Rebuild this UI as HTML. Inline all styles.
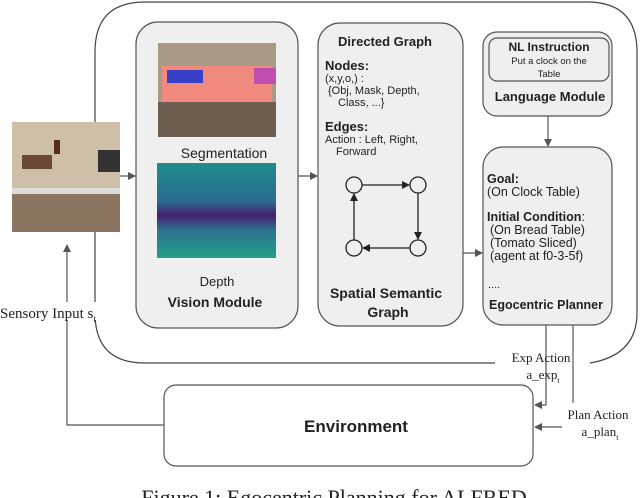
<!DOCTYPE html>
<html><head><meta charset="utf-8"><style>
html,body{margin:0;padding:0;background:#fff}
svg{display:block}
.s{font-family:"Liberation Sans",sans-serif;fill:#222}
.t{font-family:"Liberation Serif",serif;fill:#222}
</style></head><body>
<svg width="640" height="498" viewBox="0 0 640 498" xmlns="http://www.w3.org/2000/svg">
<defs>
<marker id="a" markerWidth="8" markerHeight="8" refX="7" refY="4" orient="auto" markerUnits="userSpaceOnUse"><path d="M0,0 L8,4 L0,8 z" fill="#555"/></marker>
<marker id="b" markerWidth="8" markerHeight="8" refX="7" refY="4" orient="auto" markerUnits="userSpaceOnUse"><path d="M0,0 L8,4 L0,8 z" fill="#222"/></marker>
<linearGradient id="dg" x1="0" y1="0" x2="0" y2="1"><stop offset="0" stop-color="#1f8e8c"/><stop offset="0.4" stop-color="#2a6b8e"/><stop offset="0.55" stop-color="#45206e"/><stop offset="0.7" stop-color="#2e6f8e"/><stop offset="1" stop-color="#23a08a"/></linearGradient>
</defs>
<path d="M495,363 L145,363 Q95,363 95,313 L95,52 Q95,2 145,2 L587,2 Q637,2 637,52 L637,313 Q637,355 590,363" fill="none" stroke="#444" stroke-width="1.2"/>
<rect x="12" y="122" width="108" height="110" fill="#cdbfa8"/>
<rect x="12" y="190" width="108" height="42" fill="#8c7560"/>
<rect x="12" y="188" width="108" height="6" fill="#ddd"/>
<rect x="22" y="155" width="30" height="14" fill="#6b4a35"/>
<rect x="98" y="150" width="22" height="22" fill="#333"/>
<rect x="54" y="140" width="6" height="14" fill="#5a2c1a"/>
<rect x="136" y="22" width="162" height="306" rx="22" fill="#efefef" stroke="#555" stroke-width="1.2"/>
<rect x="158" y="43" width="118" height="94" fill="#a99a85"/>
<rect x="162" y="66" width="110" height="36" fill="#f08a7e"/>
<rect x="167" y="70" width="36" height="13" fill="#3940c8"/>
<rect x="254" y="68" width="22" height="16" fill="#c050b0"/>
<rect x="158" y="102" width="118" height="35" fill="#6e5e50"/>
<text x="224" y="158" class="s" font-size="14" text-anchor="middle">Segmentation</text>
<rect x="157" y="163" width="119" height="95" fill="url(#dg)"/>
<text x="217" y="286" class="s" font-size="13" text-anchor="middle">Depth</text>
<text x="215" y="307" class="s" font-size="14" font-weight="bold" text-anchor="middle">Vision Module</text>
<line x1="120" y1="176" x2="135" y2="176" stroke="#555" stroke-width="1.2" marker-end="url(#a)"/>
<line x1="298" y1="176" x2="317" y2="176" stroke="#555" stroke-width="1.2" marker-end="url(#a)"/>
<rect x="318" y="23" width="145" height="303" rx="22" fill="#efefef" stroke="#555" stroke-width="1.2"/>
<text x="385" y="46" class="s" font-size="13" font-weight="bold" text-anchor="middle">Directed Graph</text>
<text x="325" y="70" class="s" font-size="13" font-weight="bold">Nodes:</text>
<text x="325" y="82" class="s" font-size="11">(x,y,o,) :</text>
<text x="328" y="94" class="s" font-size="11">{Obj, Mask, Depth,</text>
<text x="338" y="106" class="s" font-size="11">Class, ...}</text>
<text x="325" y="131" class="s" font-size="13" font-weight="bold">Edges:</text>
<text x="325" y="143" class="s" font-size="11">Action : Left, Right,</text>
<text x="336" y="155" class="s" font-size="11">Forward</text>
<g fill="none" stroke="#222" stroke-width="1.3">
<circle cx="354" cy="185" r="8"/><circle cx="418" cy="185" r="8"/>
<circle cx="354" cy="248" r="8"/><circle cx="418" cy="248" r="8"/>
<line x1="362" y1="185" x2="409" y2="185" marker-end="url(#b)"/>
<line x1="418" y1="193" x2="418" y2="239" marker-end="url(#b)"/>
<line x1="410" y1="248" x2="363" y2="248" marker-end="url(#b)"/>
<line x1="354" y1="240" x2="354" y2="194" marker-end="url(#b)"/>
</g>
<text x="386" y="298" class="s" font-size="14" font-weight="bold" text-anchor="middle">Spatial Semantic</text>
<text x="388" y="317" class="s" font-size="14" font-weight="bold" text-anchor="middle">Graph</text>
<line x1="463" y1="253" x2="482" y2="253" stroke="#555" stroke-width="1.2" marker-end="url(#a)"/>
<rect x="483" y="32" width="129" height="84" rx="14" fill="#efefef" stroke="#555" stroke-width="1.2"/>
<rect x="489" y="38" width="120" height="43" rx="8" fill="#efefef" stroke="#555" stroke-width="1.2"/>
<text x="549" y="51" class="s" font-size="12" font-weight="bold" text-anchor="middle">NL Instruction</text>
<text x="549" y="64" class="s" font-size="9.5" text-anchor="middle">Put a clock on the</text>
<text x="549" y="77" class="s" font-size="9.5" text-anchor="middle">Table</text>
<text x="550" y="101" class="s" font-size="13" font-weight="bold" text-anchor="middle">Language Module</text>
<line x1="548" y1="116" x2="548" y2="146" stroke="#555" stroke-width="1.2" marker-end="url(#a)"/>
<rect x="483" y="147" width="129" height="178" rx="20" fill="#efefef" stroke="#555" stroke-width="1.2"/>
<text x="487" y="183" class="s" font-size="12.5" font-weight="bold">Goal:</text>
<text x="487" y="196" class="s" font-size="12.5">(On Clock Table)</text>
<text x="487" y="221" class="s" font-size="12.5"><tspan font-weight="bold">Initial Condition</tspan>:</text>
<text x="490" y="234" class="s" font-size="12.5">(On Bread Table)</text>
<text x="490" y="247" class="s" font-size="12.5">(Tomato Sliced)</text>
<text x="490" y="260" class="s" font-size="12.5">(agent at f0-3-5f)</text>
<text x="488" y="288" class="s" font-size="11">....</text>
<text x="546" y="309" class="s" font-size="12.5" font-weight="bold" text-anchor="middle">Egocentric Planner</text>
<polyline points="546,325 546,405 535,405" fill="none" stroke="#555" stroke-width="1.2" marker-end="url(#a)"/>
<line x1="573" y1="325" x2="573" y2="403" stroke="#555" stroke-width="1.2"/>
<line x1="562" y1="427" x2="535" y2="427" stroke="#555" stroke-width="1.2" marker-end="url(#a)"/>
<text x="541" y="362" class="t" font-size="13" text-anchor="middle">Exp Action</text>
<text x="543" y="379" class="t" font-size="13" text-anchor="middle">a_exp<tspan font-size="8" dy="4">t</tspan></text>
<text x="598" y="419" class="t" font-size="13" text-anchor="middle">Plan Action</text>
<text x="600" y="436" class="t" font-size="13" text-anchor="middle">a_plan<tspan font-size="8" dy="4">t</tspan></text>
<rect x="164" y="385" width="369" height="81" rx="12" fill="#fff" stroke="#555" stroke-width="1.2"/>
<text x="356" y="432" class="s" font-size="17" font-weight="bold" text-anchor="middle">Environment</text>
<polyline points="164,425 67,425 67,245" fill="none" stroke="#555" stroke-width="1.2" marker-end="url(#a)"/>
<rect x="0" y="302" width="112" height="18" fill="#fff"/>
<text x="0" y="318" class="t" font-size="15">Sensory Input s<tspan font-size="9" dy="4">t</tspan></text>
<text x="334" y="505" class="t" font-size="22" text-anchor="middle">Figure 1: Egocentric Planning for ALFRED</text>
</svg>
</body></html>
